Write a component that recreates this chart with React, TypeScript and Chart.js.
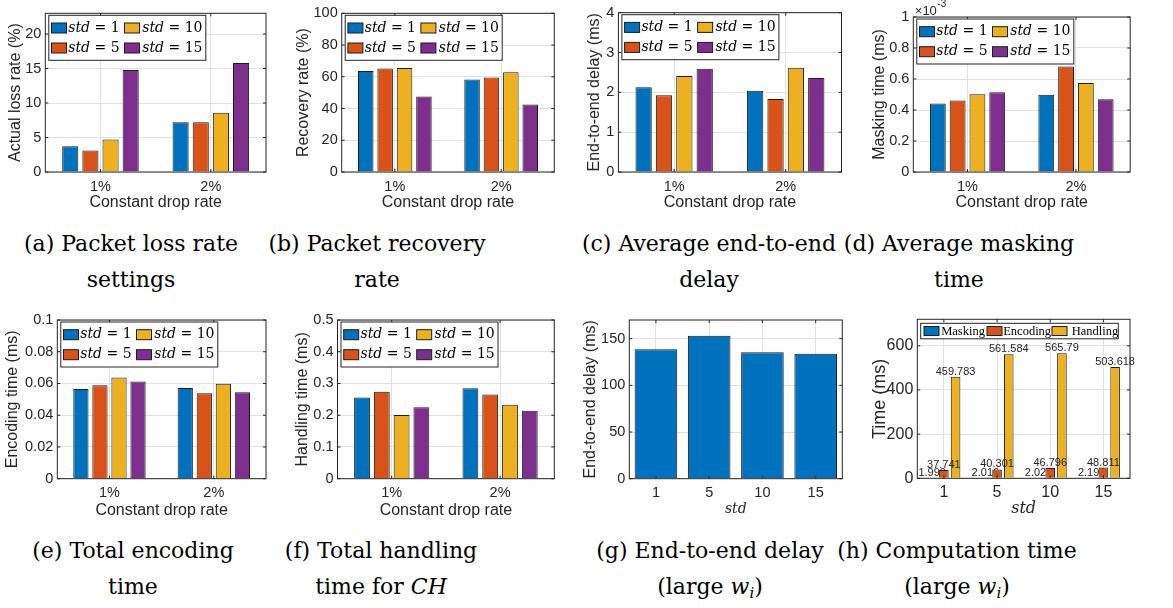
import React, { useEffect, useRef } from 'react';
import { Chart, registerables } from 'chart.js';
Chart.register(...registerables);

// ---------------- data ----------------
const dropRates = ['1%', '2%'];
const stdLevels = ['1', '5', '10', '15'];
const stdValues = ['1', '5', '10', '15'];
const seriesColors = ['#0072BD', '#D95319', '#EDB120', '#7E2F8E'];
const compNames = ['Masking', 'Encoding', 'Handling'];

// value of each std (1, 5, 10, 15) at 1% and 2% constant drop rate
const lossRateAt1 = [3.75, 3.13, 4.72, 14.8];
const lossRateAt2 = [7.2, 7.2, 8.6, 15.8];
const recoveryAt1 = [63.7, 65.2, 65.6, 47.6];
const recoveryAt2 = [58.3, 59.5, 62.9, 42.5];
const delayAt1 = [2.13, 1.93, 2.41, 2.59];
const delayAt2 = [2.04, 1.83, 2.62, 2.36];
const maskingAt1 = [0.442, 0.461, 0.502, 0.515]; // x 10^-3 ms
const maskingAt2 = [0.498, 0.681, 0.574, 0.47];
const encodingAt1 = [0.0566, 0.0589, 0.0638, 0.0613];
const encodingAt2 = [0.0571, 0.0539, 0.0598, 0.0545];
const handlingAt1 = [0.256, 0.274, 0.201, 0.225];
const handlingAt2 = [0.285, 0.265, 0.233, 0.214];
// large w_i, per std
const largeDelay = [138.6, 153.2, 135.4, 133.9];
const compMasking = [1.999, 2.016, 2.029, 2.193];
const compEncoding = [37.741, 40.301, 46.796, 48.811];
const compHandling = [459.783, 561.584, 565.79, 503.618];

const lossTicks = [0, 5, 10, 15, 20];
const recoveryTicks = [0, 20, 40, 60, 80, 100];
const delayTicks = [0, 1, 2, 3, 4];
const maskingTicks = [0, 0.2, 0.4, 0.6, 0.8, 1];
const encodingTicks = [0, 0.02, 0.04, 0.06, 0.08, 0.1];
const handlingTicks = [0, 0.1, 0.2, 0.3, 0.4, 0.5];
const largeDelayTicks = [0, 50, 100, 150];
const compTicks = [0, 200, 400, 600];

// ---------------- style ----------------
const SANS = '"Liberation Sans", Arial, Helvetica, sans-serif';
const SERIF = '"DejaVu Serif", serif';
const TEXT = '#262626';
const GRID = '#e2e2e2';
const EDGE = '#1c1c1c';

type Series = { name: string; data: number[]; color: string };
type Spec = {
  canvas: number[];
  plot: number[];
  labels: string[];
  series: Series[];
  yMax: number;
  yTicks: number[];
  yTitle: string;
  yTitleX: number;
  xTitle: string;
  xTitleMath?: boolean;
  xTickY: number;
  xTitleY: number;
  tickSize: number;
  titleSize: number;
  catPct: number;
  barPct: number;
  legend?: 'std' | 'comp';
  exponent?: boolean;
  valueLabels?: boolean;
};

const byStd = (a1: number[], a2: number[]): Series[] =>
  stdValues.map((v, k) => ({ name: 'std = ' + v, data: [a1[k], a2[k]], color: seriesColors[k] }));

const TOP = { xTickY: 186.5, xTitleY: 203, tickSize: 14.5, titleSize: 16, catPct: 0.73, barPct: 0.8, legend: 'std' as const, xTitle: 'Constant drop rate' };
const BOT = { xTickY: 492.5, xTitleY: 510.5, tickSize: 14.5, titleSize: 16, catPct: 0.73, barPct: 0.8, legend: 'std' as const, xTitle: 'Constant drop rate' };

const specs: Spec[] = [
  { ...TOP, canvas: [0, 0, 290, 215], plot: [45.3, 13.3, 266, 172], labels: dropRates, series: byStd(lossRateAt1, lossRateAt2), yMax: 23, yTicks: lossTicks, yTitle: 'Actual loss rate (%)', yTitleX: 15.7 },
  { ...TOP, canvas: [290, 0, 290, 215], plot: [341.7, 13.3, 554.3, 172], labels: dropRates, series: byStd(recoveryAt1, recoveryAt2), yMax: 100, yTicks: recoveryTicks, yTitle: 'Recovery rate (%)', yTitleX: 13.5 },
  { ...TOP, canvas: [580, 0, 290, 215], plot: [618.4, 12.7, 841.5, 172], labels: dropRates, series: byStd(delayAt1, delayAt2), yMax: 4, yTicks: delayTicks, yTitle: 'End-to-end delay (ms)', yTitleX: 15 },
  { ...TOP, canvas: [870, 0, 303, 215], plot: [913.3, 17, 1130.2, 172], labels: dropRates, series: byStd(maskingAt1, maskingAt2), yMax: 1, yTicks: maskingTicks, yTitle: 'Masking time (ms)', yTitleX: 10, exponent: true },
  { ...BOT, canvas: [0, 300, 290, 225], plot: [57.3, 320, 266, 478.7], labels: dropRates, series: byStd(encodingAt1, encodingAt2), yMax: 0.1, yTicks: encodingTicks, yTitle: 'Encoding time (ms)', yTitleX: 13 },
  { ...BOT, canvas: [290, 300, 290, 225], plot: [337.5, 320, 554.3, 478.7], labels: dropRates, series: byStd(handlingAt1, handlingAt2), yMax: 0.5, yTicks: handlingTicks, yTitle: 'Handling time (ms)', yTitleX: 13 },
  { ...BOT, legend: undefined, canvas: [580, 300, 290, 225], plot: [629.3, 320, 842.3, 478.7], labels: stdLevels, series: [{ name: 'delay', data: largeDelay, color: seriesColors[0] }], yMax: 170, yTicks: largeDelayTicks, yTitle: 'End-to-end delay (ms)', yTitleX: 11, xTitle: 'std', xTitleMath: true, xTitleY: 509, catPct: 1, barPct: 0.8 },
  { ...BOT, legend: 'comp', canvas: [870, 300, 303, 225], plot: [917.3, 319.3, 1130, 478.3], labels: stdLevels, series: [
      { name: compNames[0], data: compMasking, color: seriesColors[0] },
      { name: compNames[1], data: compEncoding, color: seriesColors[1] },
      { name: compNames[2], data: compHandling, color: seriesColors[2] },
    ], yMax: 720, yTicks: compTicks, yTitle: 'Time (ms)', yTitleX: 10, xTitle: 'std', xTitleMath: true, xTitleY: 509, tickSize: 16, titleSize: 18, catPct: 0.66, barPct: 0.82, valueLabels: true },
];

function fmt(v: number) {
  return String(v);
}

function makePlugin(s: Spec) {
  const [cl, ct] = s.canvas;
  const [pl, pt] = s.plot;
  return {
    id: 'matlabDecor',
    beforeDatasetDraw(chart: any, args: any) {
      if (s.valueLabels && args.index === 1) drawValueLabels(chart, [0]);
    },
    afterDatasetsDraw(chart: any) {
      const { ctx, chartArea, scales } = chart;
      const { left, top, right, bottom } = chartArea;
      if (s.valueLabels) drawValueLabels(chart, [1, 2]);
      ctx.save();
      ctx.strokeStyle = TEXT;
      ctx.lineWidth = 1;
      ctx.strokeRect(left, top, right - left, bottom - top);
      ctx.beginPath();
      const tl = 3;
      scales.y.ticks.forEach((t: any) => {
        const y = scales.y.getPixelForValue(t.value);
        ctx.moveTo(left, y); ctx.lineTo(left + tl, y);
        ctx.moveTo(right, y); ctx.lineTo(right - tl, y);
      });
      scales.x.ticks.forEach((_t: any, i: number) => {
        const x = scales.x.getPixelForTick(i);
        ctx.moveTo(x, bottom); ctx.lineTo(x, bottom - tl);
        ctx.moveTo(x, top); ctx.lineTo(x, top + tl);
      });
      ctx.stroke();
      ctx.restore();
    },
    afterDraw(chart: any) {
      const { ctx } = chart;
      ctx.save();
      if (s.legend === 'std') {
        const bx = pl - cl + 3.5;
        const by = pt - ct + 2;
        const bw = 157, bh = 45;
        ctx.fillStyle = '#ffffff';
        ctx.fillRect(bx, by, bw, bh);
        ctx.strokeStyle = TEXT;
        ctx.lineWidth = 1;
        ctx.strokeRect(bx, by, bw, bh);
        const swX = [2.7, 75.7];
        const txX = [19.5, 93.5];
        const rowY = [12.7, 32.7];
        s.series.forEach((ser, k) => {
          const col = k < 2 ? 0 : 1;
          const row = k % 2;
          const cy = by + rowY[row];
          ctx.fillStyle = ser.color;
          ctx.fillRect(bx + swX[col], cy - 5, 15, 10);
          ctx.strokeStyle = EDGE;
          ctx.strokeRect(bx + swX[col], cy - 5, 15, 10);
          ctx.fillStyle = '#000';
          ctx.textBaseline = 'middle';
          ctx.textAlign = 'left';
          ctx.font = 'italic 14px ' + SERIF;
          const tx = bx + txX[col];
          ctx.fillText('std', tx, cy);
          const w = ctx.measureText('std').width;
          ctx.font = '14px ' + SERIF;
          ctx.fillText(' = ' + ser.name.split('= ')[1], tx + w, cy);
        });
      }
      if (s.legend === 'comp') {
        const bx = pl - cl + 3.4;
        const by = pt - ct + 4;
        const bw = 197.6, bh = 15.5;
        ctx.fillStyle = '#ffffff';
        ctx.fillRect(bx, by, bw, bh);
        ctx.strokeStyle = TEXT;
        ctx.lineWidth = 1;
        ctx.strokeRect(bx, by, bw, bh);
        const swX = [3.3, 66.3, 131.3];
        const txX = [20.5, 82.5, 151];
        const cy = by + bh / 2;
        s.series.forEach((ser, k) => {
          ctx.fillStyle = ser.color;
          ctx.fillRect(bx + swX[k], cy - 4.5, 15, 9);
          ctx.strokeStyle = EDGE;
          ctx.strokeRect(bx + swX[k], cy - 4.5, 15, 9);
          ctx.fillStyle = '#000';
          ctx.textBaseline = 'middle';
          ctx.textAlign = 'left';
          ctx.font = '12.5px "Liberation Serif", serif';
          ctx.fillText(ser.name, bx + txX[k], cy + 0.5);
        });
      }
      if (s.exponent) {
        ctx.fillStyle = TEXT;
        ctx.textBaseline = 'middle';
        ctx.textAlign = 'left';
        ctx.font = '13px ' + SANS;
        const x = pl - cl + 1.5;
        ctx.fillText('\u00d710', x, pt - ct - 6);
        const w = ctx.measureText('\u00d710').width;
        ctx.font = '10px ' + SANS;
        ctx.fillText('-3', x + w + 0.5, pt - ct - 13);
      }
      ctx.restore();
    },
  };
}

function drawValueLabels(chart: any, which: number[]) {
  const { ctx } = chart;
  ctx.save();
  ctx.fillStyle = TEXT;
  ctx.font = '11px ' + SANS;
  ctx.textAlign = 'center';
  ctx.textBaseline = 'bottom';
  which.forEach((di) => {
    const meta = chart.getDatasetMeta(di);
    const data = chart.data.datasets[di].data as number[];
    meta.data.forEach((bar: any, i: number) => {
      ctx.fillText(fmt(data[i]), bar.x, bar.y + 0.5);
    });
  });
  ctx.restore();
}

function buildConfig(s: Spec): any {
  const [cl, ct, cw, ch] = s.canvas;
  const [pl, pt, pr, pb] = s.plot;
  const tickFont = { family: SANS, size: s.tickSize, lineHeight: 1 };
  const titleFont = s.xTitleMath
    ? { family: SERIF, size: s.titleSize - 2, style: 'italic' as const, lineHeight: 1 }
    : { family: SANS, size: s.titleSize, lineHeight: 1 };
  const yTitleFont = { family: SANS, size: s.titleSize, lineHeight: 1 };
  return {
    type: 'bar',
    data: {
      labels: s.labels,
      datasets: s.series.map((ser) => ({
        label: ser.name,
        data: ser.data,
        backgroundColor: ser.color,
        borderColor: EDGE,
        borderWidth: 1,
        categoryPercentage: s.catPct,
        barPercentage: s.barPct,
      })),
    },
    options: {
      responsive: false,
      animation: false,
      devicePixelRatio: 1,
      layout: { padding: { left: 0, top: pt - ct, right: cl + cw - pr, bottom: 0 } },
      plugins: { legend: { display: false }, tooltip: { enabled: false } },
      scales: {
        x: {
          type: 'category',
          offset: true,
          grid: { offset: false, color: GRID, drawTicks: false, lineWidth: 1 },
          border: { display: false },
          ticks: { color: TEXT, font: tickFont, padding: s.xTickY - pb - s.tickSize / 2, maxRotation: 0, autoSkip: false },
          title: {
            display: true,
            text: s.xTitle,
            color: TEXT,
            font: titleFont,
            padding: { top: 0, bottom: ct + ch - s.xTitleY - (titleFont.size as number) / 2 },
          },
          afterFit: (sc: any) => { sc.height = ct + ch - pb; },
        },
        y: {
          min: 0,
          max: s.yMax,
          grid: { color: GRID, drawTicks: false, lineWidth: 1 },
          border: { display: false },
          afterBuildTicks: (sc: any) => { sc.ticks = s.yTicks.map((v) => ({ value: v })); },
          ticks: { color: TEXT, font: tickFont, padding: 4, callback: (v: any) => fmt(Number(v)) },
          title: {
            display: true,
            text: s.yTitle,
            color: TEXT,
            font: yTitleFont,
            padding: { top: s.yTitleX - s.titleSize / 2, bottom: 0 },
          },
          afterFit: (sc: any) => { sc.width = pl - cl; },
        },
      },
    },
    plugins: [makePlugin(s)],
  };
}

function Panel({ spec }: { spec: Spec }) {
  const ref = useRef<HTMLCanvasElement>(null);
  useEffect(() => {
    const chart = new Chart(ref.current as HTMLCanvasElement, buildConfig(spec));
    return () => chart.destroy();
  }, [spec]);
  const [cl, ct, cw, ch] = spec.canvas;
  return (
    <canvas
      ref={ref}
      width={cw}
      height={ch}
      style={{ position: 'absolute', left: cl, top: ct, width: cw, height: ch, display: 'block' }}
    />
  );
}

const captionStyle = (cx: number, top: number): React.CSSProperties => ({
  position: 'absolute',
  left: cx - 150,
  top,
  width: 300,
  textAlign: 'center',
  fontFamily: SERIF,
  fontSize: 22,
  lineHeight: '36px',
  color: '#000',
  whiteSpace: 'nowrap',
});

export default function App() {
  return (
    <div style={{ position: 'absolute', left: 0, top: 0, width: 1173, height: 608, background: '#fff', overflow: 'hidden' }}>
      {specs.map((s, i) => (
        <Panel key={i} spec={s} />
      ))}
      <div style={captionStyle(131, 226)}>(a) Packet loss rate<br />settings</div>
      <div style={captionStyle(377, 226)}>(b) Packet recovery<br />rate</div>
      <div style={captionStyle(709, 226)}>(c) Average end-to-end<br />delay</div>
      <div style={captionStyle(959, 226)}>(d) Average masking<br />time</div>
      <div style={captionStyle(133, 533)}>(e) Total encoding<br />time</div>
      <div style={captionStyle(381, 533)}>(f) Total handling<br />time for <i>CH</i></div>
      <div style={captionStyle(710, 533)}>(g) End-to-end delay<br />(large <i>w</i><sub style={{ fontSize: 15, verticalAlign: -4, lineHeight: 0 }}><i>i</i></sub>)</div>
      <div style={captionStyle(957, 533)}>(h) Computation time<br />(large <i>w</i><sub style={{ fontSize: 15, verticalAlign: -4, lineHeight: 0 }}><i>i</i></sub>)</div>
    </div>
  );
}
